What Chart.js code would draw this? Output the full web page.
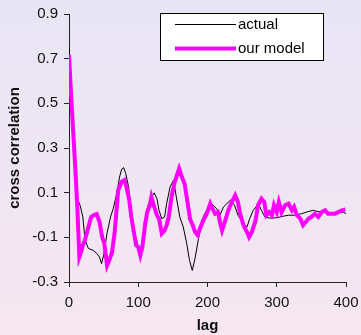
<!DOCTYPE html>
<html lang="en">
<head>
    <meta charset="UTF-8">
    <title>Cross correlation</title>
    <script src="https://cdn.jsdelivr.net/npm/chart.js"></script>
    <style>
        body { margin: 0; }
    </style>
</head>
<body>
<canvas id="corrChart" width="361" height="335"></canvas>

<script>
    // measured cross correlation
    var actualLag = [0, 3, 6, 9, 11, 13, 16, 20, 23, 28, 35, 40, 44, 47, 50, 55, 60, 64, 69, 73, 76, 79, 82, 86,
        90, 95, 100, 104, 108, 112, 115, 119, 123, 127, 130, 134, 138, 141, 146, 151, 155, 160, 165, 170, 174,
        178, 182, 187, 191, 196, 204, 208, 213, 218, 223, 228, 233, 235, 239, 244, 252, 257, 261, 266, 271, 274,
        278, 283, 290, 300, 310, 317, 326, 336, 345, 353, 358, 365, 372, 379, 386, 392, 396, 400];
    var actual = [0.75, 0.55, 0.38, 0.22, 0.12, 0.066, 0.044, -0.009, -0.11, -0.15, -0.158, -0.172, -0.188, -0.218,
        -0.18, -0.08, -0.009, 0.03, 0.097, 0.17, 0.205, 0.212, 0.185, 0.126, 0.021, -0.08, -0.14, -0.16, -0.09,
        0.02, 0.051, 0.08, 0.099, 0.073, 0.021, -0.016, -0.009, 0.051, 0.126, 0.156, 0.08, -0.009, -0.054, -0.128,
        -0.203, -0.248, -0.194, -0.106, -0.031, 0.006, 0.044, 0.044, 0.029, -0.001, 0.036, 0.051, 0.066, 0.058,
        0.044, -0.001, -0.039, -0.054, -0.016, 0.021, 0.04, 0.047, 0.02, -0.009, -0.014, -0.012, -0.005, -0.001,
        -0.001, 0.006, 0.015, 0.021, 0.016, 0.013, 0.012, 0.01, 0.008, 0.012, 0.013, 0.006];

    // simulated cross correlation
    var modelLag = [0, 4, 9, 12, 15, 17, 20, 23, 28, 32, 36, 40, 44, 48, 51, 55, 58, 62, 66, 71, 76, 80, 83, 87,
        90, 94, 97, 100, 103, 106, 110, 113, 117, 119, 123, 127, 130, 134, 138, 141, 144, 148, 152, 155, 159,
        163, 167, 171, 175, 178, 182, 186, 189, 194, 199, 204, 207, 211, 215, 218, 221, 225, 230, 235, 240, 244,
        247, 252, 257, 260, 264, 269, 273, 278, 282, 285, 289, 293, 296, 300, 303, 307, 312, 317, 322, 325, 329,
        334, 338, 342, 346, 350, 355, 360, 365, 370, 374, 379, 384, 389, 394, 399];
    var model = [0.716, 0.484, 0.215, 0.036, -0.188, -0.17, -0.136, -0.113, -0.054, -0.009, 0.0, 0.004, -0.03,
        -0.1, -0.127, -0.226, -0.203, -0.17, -0.076, 0.111, 0.148, 0.156, 0.126, 0.066, -0.009, -0.083, -0.136,
        -0.143, -0.18, -0.143, -0.039, 0.013, 0.044, 0.08, 0.036, -0.001, -0.016, -0.083, -0.069, -0.046, -0.009,
        0.08, 0.14, 0.17, 0.208, 0.17, 0.14, 0.06, -0.02, -0.04, -0.076, -0.091, -0.061, -0.024, 0.006, 0.051,
        0.029, 0.006, 0.013, -0.031, -0.069, -0.031, 0.021, 0.058, 0.088, 0.058, 0.006, -0.046, -0.076, -0.099,
        -0.076, -0.03, 0.044, 0.073, 0.058, -0.001, 0.013, -0.001, 0.044, 0.013, 0.058, 0.013, 0.044, 0.051,
        0.021, 0.036, -0.001, -0.016, -0.046, -0.031, -0.016, -0.009, 0.006, -0.009, 0.013, 0.021, 0.006, 0.006,
        0.006, 0.013, 0.021, 0.025];

    var seriesNames = ['actual', 'our model'];
    var yTicks = [-0.3, -0.1, 0.1, 0.3, 0.5, 0.7, 0.9];
    var xTicks = [0, 100, 200, 300, 400];

    var fontFamily = '"Liberation Sans", Arial, sans-serif';

    function toPoints(xs, ys) {
        return xs.map(function (x, i) { return {x: x, y: ys[i]}; });
    }

    // soft lavender-to-pink page background
    var backgroundPlugin = {
        id: 'pageBackground',
        beforeDraw: function (chart) {
            var c = chart.ctx;
            var g = c.createLinearGradient(0, 0, 0, chart.height);
            g.addColorStop(0, '#e8e5f6');
            g.addColorStop(1, '#f6e6f0');
            c.save();
            c.fillStyle = g;
            c.fillRect(0, 0, chart.width, chart.height);
            c.restore();
        }
    };

    // boxed legend in the upper right corner
    var boxLegendPlugin = {
        id: 'boxLegend',
        afterDatasetsDraw: function (chart) {
            var c = chart.ctx;
            c.save();
            c.fillStyle = '#ffffff';
            c.fillRect(160, 13, 164, 48);
            c.strokeStyle = '#000000';
            c.lineWidth = 1;
            c.strokeRect(160.5, 13.5, 163, 47);
            var rows = [24, 48];
            chart.data.datasets.forEach(function (ds, i) {
                c.strokeStyle = ds.borderColor;
                c.lineWidth = ds.borderWidth;
                c.beginPath();
                c.moveTo(175, rows[i] + 0.5);
                c.lineTo(236, rows[i] + 0.5);
                c.stroke();
                c.fillStyle = '#000000';
                c.font = '15px ' + fontFamily;
                c.textBaseline = 'middle';
                c.fillText(ds.label, 238, rows[i] + 1);
            });
            c.restore();
        }
    };

    var ctx = document.getElementById('corrChart').getContext('2d');
    var corrChart = new Chart(ctx, {
        type: 'line',
        data: {
            datasets: [
                {
                    label: seriesNames[0],
                    data: toPoints(actualLag, actual),
                    borderColor: '#000000',
                    borderWidth: 1,
                    pointRadius: 0,
                    tension: 0,
                    fill: false,
                    order: 2
                },
                {
                    label: seriesNames[1],
                    data: toPoints(modelLag, model),
                    borderColor: '#ff00ff',
                    borderWidth: 4,
                    pointRadius: 0,
                    tension: 0,
                    fill: false,
                    order: 1
                }
            ]
        },
        options: {
            responsive: false,
            animation: false,
            layout: {padding: {top: 14, right: 15, bottom: 0, left: 0}},
            plugins: {
                legend: {display: false},
                tooltip: {enabled: false}
            },
            scales: {
                x: {
                    type: 'linear',
                    min: xTicks[0],
                    max: xTicks[xTicks.length - 1],
                    afterFit: function (scale) {
                        scale.height = 53;
                        scale.paddingLeft = 0;
                        scale.paddingRight = 0;
                    },
                    afterBuildTicks: function (scale) {
                        scale.ticks = xTicks.map(function (v) { return {value: v}; });
                    },
                    grid: {drawOnChartArea: false, drawTicks: true, tickLength: 5, color: '#222'},
                    border: {display: true, color: '#222', width: 1},
                    ticks: {
                        color: '#111',
                        padding: 7,
                        maxRotation: 0,
                        font: {family: fontFamily, size: 15}
                    },
                    title: {
                        display: true,
                        text: 'lag',
                        color: '#111',
                        padding: {top: 0, bottom: 0},
                        font: {family: fontFamily, size: 15, weight: 'bold'}
                    }
                },
                y: {
                    min: yTicks[0],
                    max: yTicks[yTicks.length - 1],
                    afterFit: function (scale) {
                        scale.width = 69;
                        scale.paddingTop = 0;
                        scale.paddingBottom = 0;
                    },
                    afterBuildTicks: function (scale) {
                        scale.ticks = yTicks.map(function (v) { return {value: v}; });
                    },
                    grid: {drawOnChartArea: false, drawTicks: true, tickLength: 5, color: '#222'},
                    border: {display: true, color: '#222', width: 1},
                    ticks: {
                        color: '#111',
                        padding: 6,
                        font: {family: fontFamily, size: 15},
                        callback: function (v) { return v.toFixed(1); }
                    },
                    title: {
                        display: true,
                        text: 'cross correlation',
                        color: '#111',
                        padding: {top: 6, bottom: 0},
                        font: {family: fontFamily, size: 15, weight: 'bold'}
                    }
                }
            }
        },
        plugins: [backgroundPlugin, boxLegendPlugin]
    });
</script>
</body>
</html>
